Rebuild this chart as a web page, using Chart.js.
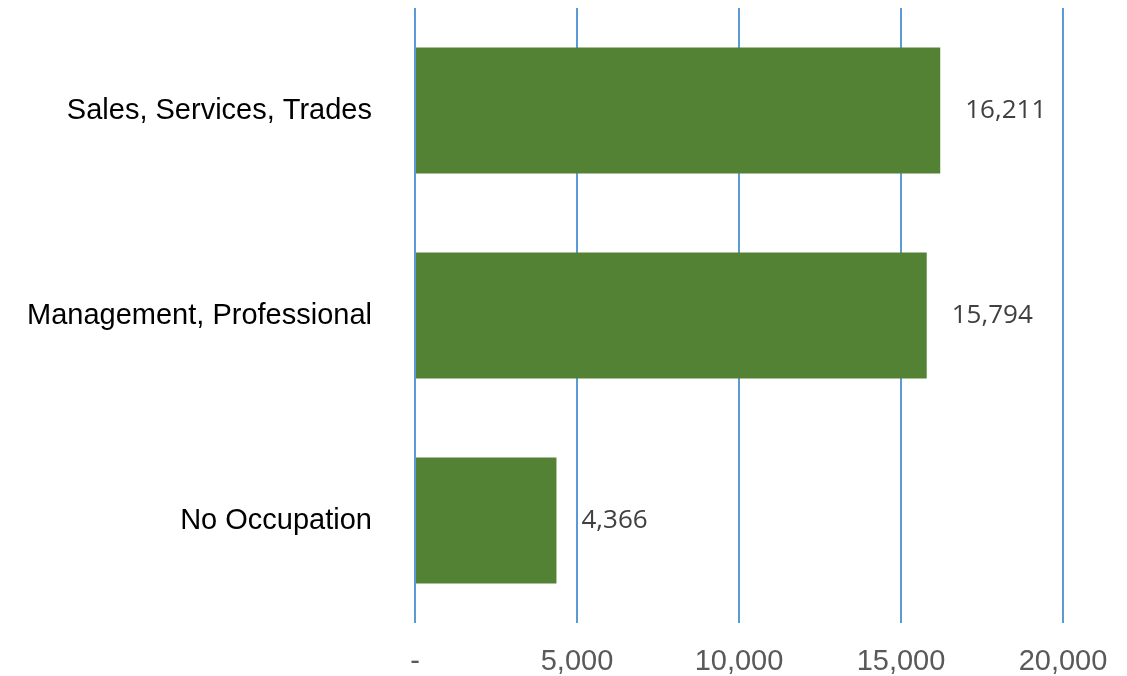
<!DOCTYPE html>
<html lang="en">
<head>
    <meta charset="UTF-8">
    <title>Occupation Chart</title>
    <script src="https://cdn.jsdelivr.net/npm/chart.js"></script>
    <style>
        html, body { margin: 0; padding: 0; background: #fff; }
        #wrap { width: 1127px; height: 676px; }
    </style>
</head>
<body>
    <div id="wrap"><canvas id="occChart"></canvas></div>

    <script>
        // chart data
        const categories = ['Sales, Services, Trades', 'Management, Professional', 'No Occupation'];
        const counts = [16211, 15794, 4366];
        const xTicks = [0, 5000, 10000, 15000, 20000];

        const fmt = v => v === 0 ? '-' : v.toLocaleString('en-US');

        // draws value labels to the right of each bar
        const valueLabels = {
            id: 'valueLabels',
            afterDatasetsDraw(chart) {
                const ctx = chart.ctx;
                const meta = chart.getDatasetMeta(0);
                ctx.save();
                ctx.font = '26px "Open Sans"';
                ctx.fillStyle = '#404040';
                ctx.textAlign = 'left';
                ctx.textBaseline = 'middle';
                meta.data.forEach((bar, i) => {
                    ctx.fillText(fmt(counts[i]), bar.x + 25, bar.y);
                });
                ctx.restore();
            }
        };

        const ctx = document.getElementById('occChart').getContext('2d');
        new Chart(ctx, {
            type: 'bar',
            data: {
                labels: categories,
                datasets: [{
                    data: counts,
                    backgroundColor: '#548235',
                    borderWidth: 0,
                    categoryPercentage: 1,
                    barPercentage: 0.615
                }]
            },
            options: {
                indexAxis: 'y',
                responsive: true,
                maintainAspectRatio: false,
                animation: false,
                layout: { padding: { top: 8, right: 64, left: 0, bottom: 0 } },
                plugins: {
                    legend: { display: false },
                    tooltip: { enabled: false }
                },
                scales: {
                    x: {
                        min: 0,
                        max: 20000,
                        afterBuildTicks: scale => { scale.ticks = xTicks.map(v => ({ value: v })); },
                        afterFit: scale => {
                            scale.height = 53;
                            scale.paddingLeft = 0;
                            scale.paddingRight = 0;
                        },
                        grid: { color: '#5B9BD5', lineWidth: 2, drawTicks: false },
                        border: { display: false },
                        ticks: {
                            callback: v => fmt(v),
                            color: '#595959',
                            font: { family: '"Liberation Sans", Arial', size: 29 },
                            padding: 22,
                            maxRotation: 0,
                            autoSkip: false
                        }
                    },
                    y: {
                        afterFit: scale => {
                            scale.width = 415;
                            // tick padding would otherwise push the plot down
                            scale.paddingTop = 0;
                            scale.paddingBottom = 0;
                        },
                        grid: { display: false, drawTicks: false },
                        border: { display: false },
                        ticks: {
                            color: '#000000',
                            font: { family: '"Liberation Sans", Arial', size: 29 },
                            padding: 43
                        }
                    }
                }
            },
            plugins: [valueLabels]
        });
    </script>
</body>
</html>
